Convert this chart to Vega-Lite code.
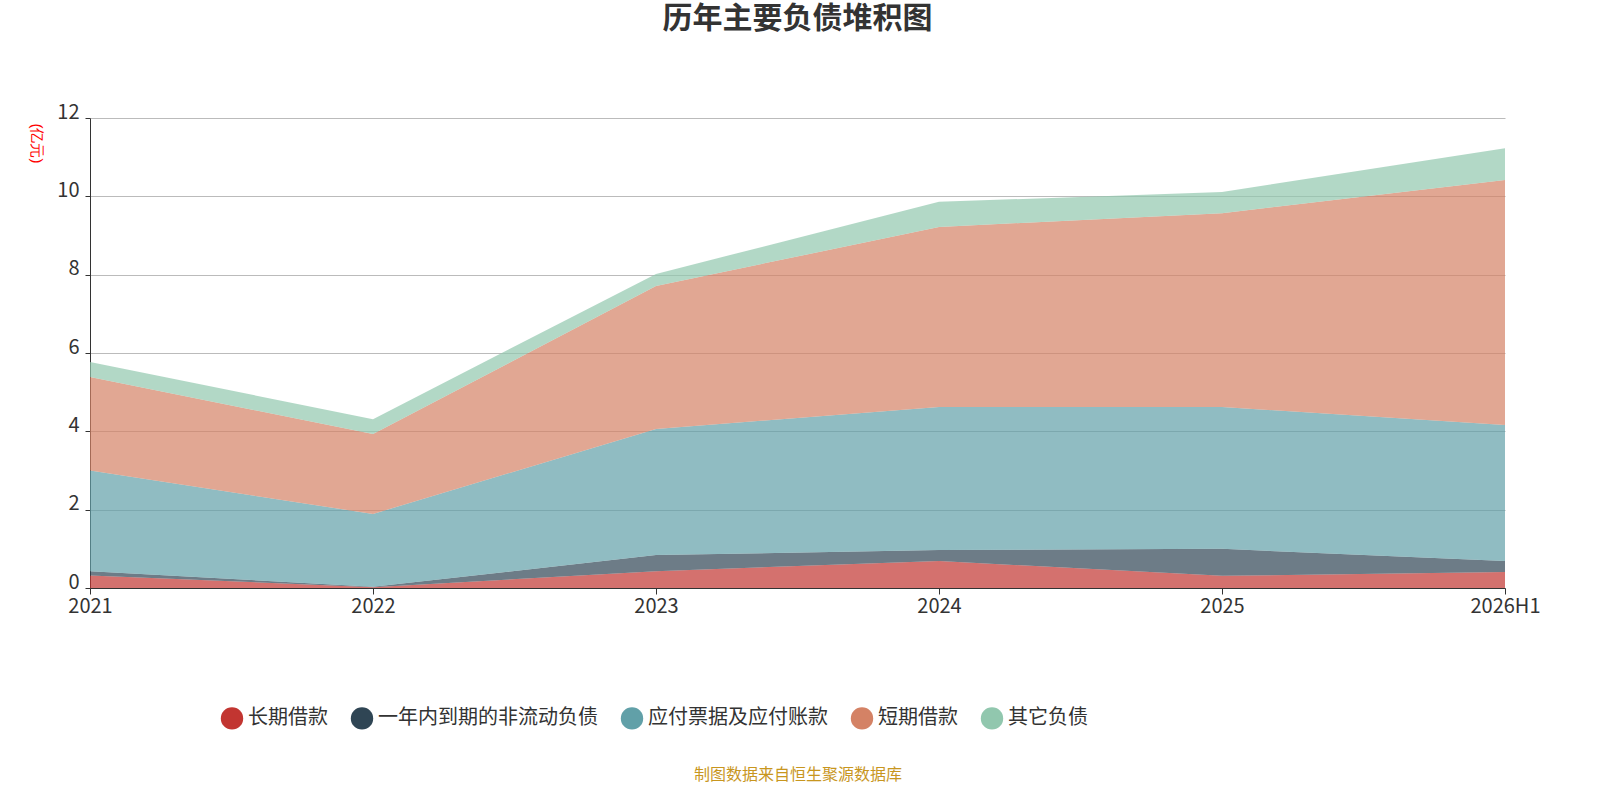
{
  "$schema": "https://vega.github.io/schema/vega-lite/v6.json",
  "width": 1415,
  "height": 470,
  "autosize": "none",
  "padding": {"left": 90, "top": 118, "right": 95, "bottom": 212},
  "background": "#ffffff",
  "title": {"text": "历年主要负债堆积图", "fontSize": 30, "font": "Noto Sans CJK SC", "fontWeight": "bold", "color": "#333333", "offset": 68, "anchor": "middle"},
  "data": {"values": [
    {"year": "2021", "s": "长期借款", "k": 1, "v": 0.32},
    {"year": "2022", "s": "长期借款", "k": 1, "v": 0.02},
    {"year": "2023", "s": "长期借款", "k": 1, "v": 0.43},
    {"year": "2024", "s": "长期借款", "k": 1, "v": 0.69},
    {"year": "2025", "s": "长期借款", "k": 1, "v": 0.31},
    {"year": "2026H1", "s": "长期借款", "k": 1, "v": 0.41},
    {"year": "2021", "s": "一年内到期的非流动负债", "k": 2, "v": 0.11},
    {"year": "2022", "s": "一年内到期的非流动负债", "k": 2, "v": 0.01},
    {"year": "2023", "s": "一年内到期的非流动负债", "k": 2, "v": 0.41},
    {"year": "2024", "s": "一年内到期的非流动负债", "k": 2, "v": 0.28},
    {"year": "2025", "s": "一年内到期的非流动负债", "k": 2, "v": 0.69},
    {"year": "2026H1", "s": "一年内到期的非流动负债", "k": 2, "v": 0.28},
    {"year": "2021", "s": "应付票据及应付账款", "k": 3, "v": 2.57},
    {"year": "2022", "s": "应付票据及应付账款", "k": 3, "v": 1.86},
    {"year": "2023", "s": "应付票据及应付账款", "k": 3, "v": 3.22},
    {"year": "2024", "s": "应付票据及应付账款", "k": 3, "v": 3.65},
    {"year": "2025", "s": "应付票据及应付账款", "k": 3, "v": 3.62},
    {"year": "2026H1", "s": "应付票据及应付账款", "k": 3, "v": 3.47},
    {"year": "2021", "s": "短期借款", "k": 4, "v": 2.39},
    {"year": "2022", "s": "短期借款", "k": 4, "v": 2.04},
    {"year": "2023", "s": "短期借款", "k": 4, "v": 3.65},
    {"year": "2024", "s": "短期借款", "k": 4, "v": 4.6},
    {"year": "2025", "s": "短期借款", "k": 4, "v": 4.95},
    {"year": "2026H1", "s": "短期借款", "k": 4, "v": 6.26},
    {"year": "2021", "s": "其它负债", "k": 5, "v": 0.38},
    {"year": "2022", "s": "其它负债", "k": 5, "v": 0.38},
    {"year": "2023", "s": "其它负债", "k": 5, "v": 0.31},
    {"year": "2024", "s": "其它负债", "k": 5, "v": 0.64},
    {"year": "2025", "s": "其它负债", "k": 5, "v": 0.54},
    {"year": "2026H1", "s": "其它负债", "k": 5, "v": 0.81}
  ]},
  "mark": {"type": "area", "opacity": 0.7},
  "encoding": {
    "x": {"field": "year", "type": "ordinal", "sort": null,
      "scale": {"type": "point", "padding": 0},
      "axis": {"labelAngle": 0, "labelFontSize": 20, "labelColor": "#333333", "domainColor": "#333333", "tickColor": "#333333", "tickSize": 6, "labelFont": "Noto Sans CJK SC",
        "title": "制图数据来自恒生聚源数据库", "titleColor": "#c8961e", "titleFontSize": 16, "titleFontWeight": "normal", "titleFont": "Noto Sans CJK SC", "titlePadding": 150}},
    "y": {"field": "v", "type": "quantitative", "stack": "zero",
      "scale": {"domain": [0, 12]},
      "axis": {"values": [0, 2, 4, 6, 8, 10, 12], "labelOverlap": false, "labelFontSize": 20, "labelColor": "#333333", "gridColor": "#bbbbbb", "domainColor": "#333333", "tickColor": "#333333", "labelFont": "Noto Sans CJK SC", "labelPadding": 6, "labelOffset": -6,
        "title": "(亿元)", "titleColor": "#ff0000", "titleFontSize": 15, "titleFontWeight": "normal", "titleX": -62, "titleY": 25, "titleAngle": 90, "titleAlign": "center"}},
    "color": {"field": "s", "type": "nominal",
      "sort": ["长期借款", "一年内到期的非流动负债", "应付票据及应付账款", "短期借款", "其它负债"],
      "scale": {"domain": ["长期借款", "一年内到期的非流动负债", "应付票据及应付账款", "短期借款", "其它负债"], "range": ["#c23531", "#2f4554", "#61a0a8", "#d48265", "#91c7ae"]},
      "legend": {"title": null, "orient": "none", "direction": "horizontal", "legendX": 130, "legendY": 588, "symbolType": "circle", "symbolSize": 500, "symbolOpacity": 1, "labelFontSize": 20, "labelColor": "#333333", "labelFont": "Noto Sans CJK SC", "labelLimit": 0, "columnPadding": 22}},
    "order": {"field": "k", "type": "quantitative"}
  },
  "config": {"view": {"stroke": null}}
}
